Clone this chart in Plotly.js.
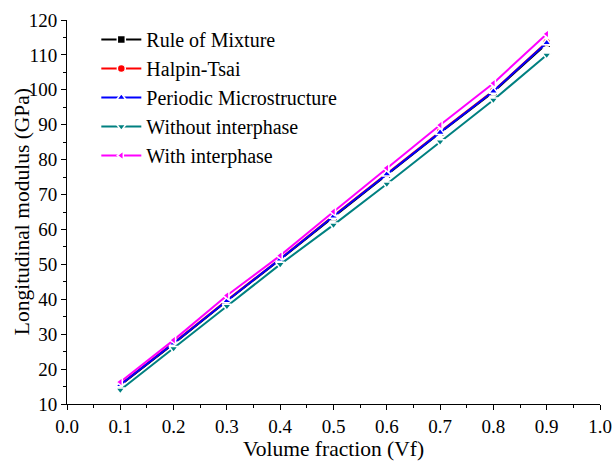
<!DOCTYPE html>
<html>
<head>
<meta charset="utf-8">
<script src="https://cdn.plot.ly/plotly-3.0.1.min.js"></script>
<style>html,body{margin:0;padding:0;background:#fff;}#chart{width:614px;height:461px;}</style>
</head>
<body>
<div id="chart"></div>
<script>
const vf = [0.1, 0.2, 0.3, 0.4, 0.5, 0.6, 0.7, 0.8, 0.9];
const ruleOfMixture = [15.4, 27.3, 39.5, 51.4, 63.6, 75.7, 87.7, 99.4, 113.2];
const halpinTsai = [15.6, 27.5, 39.7, 51.6, 63.9, 76.0, 88.0, 99.7, 113.6];
const periodicMicro = [15.5, 27.4, 39.6, 51.5, 63.8, 75.9, 87.8, 99.6, 113.5];
const withoutInterphase = [14.0, 25.9, 38.0, 50.0, 61.3, 73.0, 85.1, 97.1, 110.0];
const withInterphase = [16.3, 28.3, 41.1, 52.5, 65.1, 77.6, 89.9, 101.9, 116.0];
const seriesNames = ["Rule of Mixture", "Halpin-Tsai", "Periodic Microstructure", "Without interphase", "With interphase"];
const yTitle = "Longitudinal modulus (GPa)";
const xTitle = "Volume fraction (Vf)";

const series = [
  {y: ruleOfMixture, color: "#000000", symbol: "square"},
  {y: halpinTsai, color: "#ff0000", symbol: "circle"},
  {y: periodicMicro, color: "#0000ff", symbol: "triangle-up"},
  {y: withoutInterphase, color: "#008080", symbol: "triangle-down"},
  {y: withInterphase, color: "#ff00ff", symbol: "triangle-left"}
];

const traces = series.map((s, i) => ({
  x: vf, y: s.y, name: seriesNames[i], type: "scatter", mode: "lines+markers",
  line: {color: s.color, width: 2},
  marker: {color: s.color, symbol: s.symbol, size: 8, line: {color: "#ffffff", width: 1.5}}
}));

const fam = "'Liberation Serif', 'Times New Roman', serif";
const font = {family: fam, color: "#000"};

const layout = {
  width: 614, height: 461,
  margin: {l: 67, r: 14, t: 20, b: 57},
  paper_bgcolor: "#fff", plot_bgcolor: "#fff",
  font: {family: fam, color: "#000"},
  showlegend: true,
  legend: {x: 0.055, y: 1.0, xanchor: "left", yanchor: "top", bgcolor: "rgba(0,0,0,0)",
    font: Object.assign({size: 20}, font), itemwidth: 40, tracegroupgap: 0},
  xaxis: {
    range: [0, 1], dtick: 0.1, tick0: 0, tickformat: ".1f",
    showline: true, linecolor: "#000", linewidth: 1, mirror: false,
    ticks: "outside", ticklen: 5, tickcolor: "#000", showgrid: false, zeroline: false,
    minor: {dtick: 0.05, ticks: "outside", ticklen: 3, tickcolor: "#000"},
    tickfont: Object.assign({size: 19}, font),
    title: {text: xTitle, font: Object.assign({size: 21.5}, font), standoff: 8}
  },
  yaxis: {
    range: [10, 120], dtick: 10, tick0: 10,
    showline: true, linecolor: "#000", linewidth: 1, mirror: false,
    ticks: "outside", ticklen: 5, tickcolor: "#000", showgrid: false, zeroline: false,
    minor: {dtick: 5, ticks: "outside", ticklen: 3, tickcolor: "#000"},
    tickfont: Object.assign({size: 19}, font)
  },
  annotations: [{
    text: yTitle, xref: "paper", yref: "paper", x: -0.084, y: 0.5,
    xanchor: "center", yanchor: "middle", textangle: -90, showarrow: false,
    font: Object.assign({size: 21.5}, font)
  }]
};

Plotly.newPlot("chart", traces, layout, {displayModeBar: false, staticPlot: true});
</script>
</body>
</html>
